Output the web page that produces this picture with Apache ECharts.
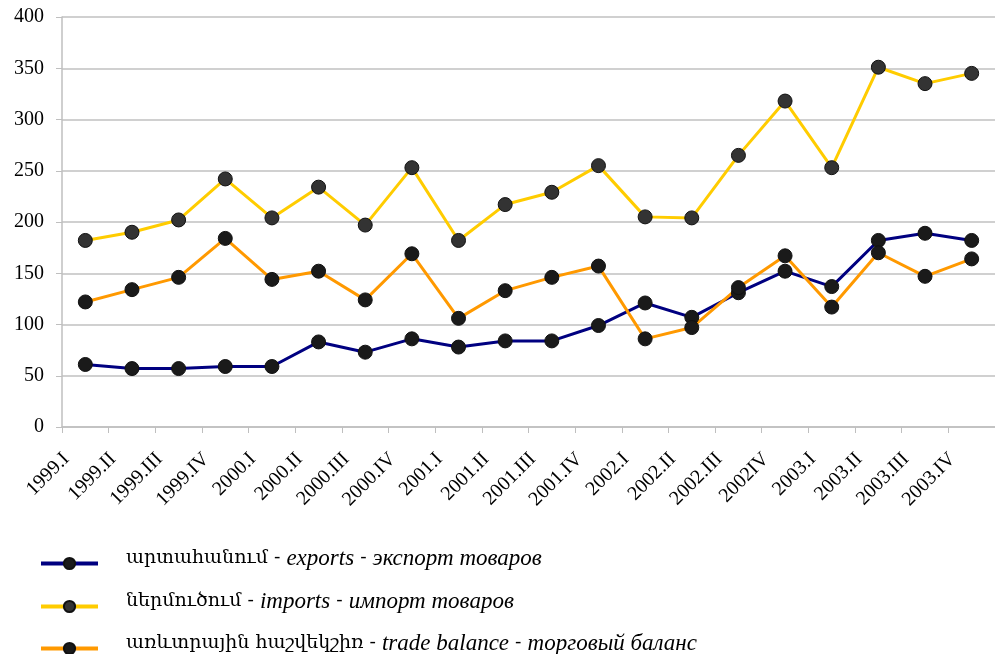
<!DOCTYPE html>
<html>
<head>
<meta charset="utf-8">
<script src="https://cdn.jsdelivr.net/npm/echarts@6/dist/echarts.min.js"></script>
<style>html,body{margin:0;padding:0;background:#fff;}#c{width:995px;height:654px;}</style>
</head>
<body>
<div id="c"></div>
<script>
const categories = ['1999.I','1999.II','1999.III','1999.IV','2000.I','2000.II','2000.III','2000.IV','2001.I','2001.II','2001.III','2001.IV','2002.I','2002.II','2002.III','2002IV','2003.I','2003.II','2003.III','2003.IV'];
const exportsData = [61, 57, 57, 59, 59, 83, 73, 86, 78, 84, 84, 99, 121, 107, 131, 152, 137, 182, 189, 182];
const importsData = [182, 190, 202, 242, 204, 234, 197, 253, 182, 217, 229, 255, 205, 204, 265, 318, 253, 351, 335, 345];
const balanceData = [122, 134, 146, 184, 144, 152, 124, 169, 106, 133, 146, 157, 86, 97, 136, 167, 117, 170, 147, 164];
const legendNames = ['exports', 'imports', 'trade balance'];
const legendLabels = {
  'exports': ['արտահանում - ', 'exports', ' - ', 'экспорт товаров'],
  'imports': ['ներմուծում - ', 'imports', ' - ', 'импорт товаров'],
  'trade balance': ['առևտրային հաշվեկշիռ - ', 'trade balance', ' - ', 'торговый баланс']
};

const chart = echarts.init(document.getElementById('c'));
const serifFont = '"Liberation Serif", "Times New Roman", serif';
function mk(name, data, lineColor, markColor) {
  return {
    name: name, type: 'line', data: data,
    symbol: 'circle', symbolSize: 14,
    lineStyle: { color: lineColor, width: 3 },
    itemStyle: { color: markColor, borderColor: '#111', borderWidth: 1 },
    emphasis: { disabled: true },
    animation: false
  };
}
const legendTops = [542, 585, 627];
const legends = legendNames.map(function (n, i) {
  return {
    orient: 'vertical', left: 34, top: legendTops[i],
    itemWidth: 57, itemHeight: 14, itemGap: 5,
    selectedMode: false,
    data: [n],
    lineStyle: { width: 4 },
    formatter: function (nm) {
      const p = legendLabels[nm];
      return '{a|' + p[0] + '}{b|' + p[1] + '}{a|' + p[2] + '}{b|' + p[3] + '}';
    },
    textStyle: {
      padding: [0, 0, 10, 23],
      rich: {
        a: { fontFamily: '"DejaVu Serif", "Liberation Serif", serif', fontSize: 19, color: '#000' },
        b: { fontFamily: serifFont, fontStyle: 'italic', fontSize: 23, color: '#000' }
      }
    }
  };
});
chart.setOption({
  animation: false,
  grid: { left: 62, right: -5, top: 17, bottom: 227, containLabel: false },
  legend: legends,
  xAxis: {
    type: 'category', data: categories, boundaryGap: true,
    axisLine: { lineStyle: { color: '#bfbfbf', width: 1.5 } },
    axisTick: { show: true, length: 6, lineStyle: { color: '#bfbfbf' } },
    axisLabel: { rotate: 45, margin: 10, interval: 0, color: '#000', fontFamily: serifFont, fontSize: 20, padding: [0, 27, 0, 0] }
  },
  yAxis: {
    type: 'value', min: 0, max: 400, interval: 50,
    axisLine: { show: true, lineStyle: { color: '#bfbfbf', width: 1.5 } },
    axisTick: { show: true, length: 6, lineStyle: { color: '#bfbfbf' } },
    axisLabel: { margin: 18, color: '#000', fontFamily: serifFont, fontSize: 20 },
    splitLine: { lineStyle: { color: '#c0c0c0', width: 1.5 } }
  },
  series: [
    mk('imports', importsData, '#FFCC00', '#333333'),
    mk('exports', exportsData, '#000080', '#1a1a1a'),
    mk('trade balance', balanceData, '#FF9900', '#1a1a1a')
  ]
});
</script>
</body>
</html>
